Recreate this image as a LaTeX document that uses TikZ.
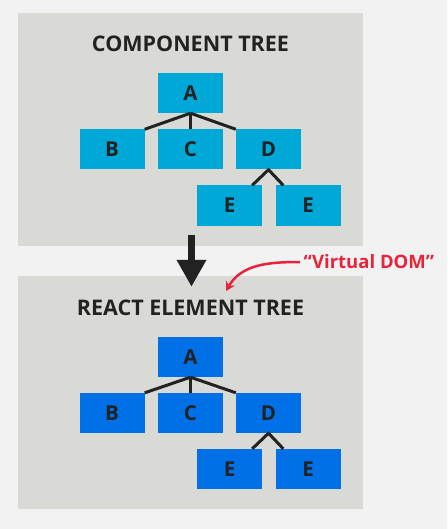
\documentclass[tikz,border=0pt]{standalone}
\usepackage{fontspec}
\setmainfont{Open Sans}
\usepackage{xcolor}
\usetikzlibrary{arrows.meta,positioning,calc}

\definecolor{pagebg}{HTML}{F2F2F2}
\definecolor{panelgray}{HTML}{D9D9D6}
\definecolor{compblue}{HTML}{00A8D8}
\definecolor{elemblue}{HTML}{0070E6}
\definecolor{inkdark}{HTML}{222222}
\definecolor{vdomred}{HTML}{E8243C}

\begin{document}
\begin{tikzpicture}[
    x=1pt, y=-1pt,
    panel/.style={rectangle, fill=panelgray, minimum width=345pt, minimum height=233pt, inner sep=0pt},
    comp/.style={rectangle, fill=compblue, minimum width=65pt, minimum height=40pt, inner sep=0pt, text=inkdark, font=\fontsize{20.5}{24}\selectfont\bfseries},
    elem/.style={comp, fill=elemblue},
    title/.style={text=inkdark, font=\fontsize{21.5}{24}\selectfont\bfseries},
    edge/.style={draw=inkdark, line width=3pt},
    bigarrow/.style={-{Triangle[width=28pt,length=27pt]}, draw=inkdark, line width=7pt},
    redarrow/.style={-{Stealth[width=10pt,length=9pt]}, draw=vdomred, line width=2.5pt}
]
    % Background
    \fill[pagebg] (0,0) rectangle (447,529);

    % Panels
    \node[panel] (comppanel) at (190.5,129.5) {};
    \node[panel] (elempanel) at (190.5,392.5) {};

    % Component tree
    \node[title] (comptitle) at (190.5,44) {COMPONENT TREE};
    \node[comp] (cA) at (190.5,93) {A};
    \node[comp] (cB) at (112,149.5) {B};
    \node[comp] (cC) at (190.5,149.5) {C};
    \node[comp] (cD) at (268.5,149.5) {D};
    \node[comp] (cE1) at (229.5,205.5) {E};
    \node[comp] (cE2) at (308,205.5) {E};

    \draw[edge] (cB.north east) -- (cA.south);
    \draw[edge] (cC.north) -- (cA.south);
    \draw[edge] (cD.north west) -- (cA.south);
    \draw[edge] ([xshift=-10pt]cE1.north east) -- (cD.south) -- ([xshift=8pt]cE2.north west);

    % React element tree
    \node[title] (elemtitle) at (190.5,308) {REACT ELEMENT TREE};
    \node[elem] (eA) at (190.5,357) {A};
    \node[elem] (eB) at (112,413) {B};
    \node[elem] (eC) at (190.5,413) {C};
    \node[elem] (eD) at (268.5,413) {D};
    \node[elem] (eE1) at (229.5,469) {E};
    \node[elem] (eE2) at (308,469) {E};

    \draw[edge] (eB.north east) -- (eA.south);
    \draw[edge] (eC.north) -- (eA.south);
    \draw[edge] (eD.north west) -- (eA.south);
    \draw[edge] ([xshift=-10pt]eE1.north east) -- (eD.south) -- ([xshift=8pt]eE2.north west);

    % Arrow between the trees
    \draw[bigarrow] ([xshift=1pt,yshift=11pt]comppanel.south) -- ([xshift=1pt,yshift=-11pt]elempanel.north);

    % Virtual DOM label
    \node[text=vdomred, font=\fontsize{18.5}{22}\selectfont\bfseries, anchor=west] (vdom) at (300,262) {“Virtual DOM”};
    \coordinate (vtip) at (226,291);
    \draw[redarrow] (vdom.west) to[out=180, in=60] (vtip);
\end{tikzpicture}
\end{document}
